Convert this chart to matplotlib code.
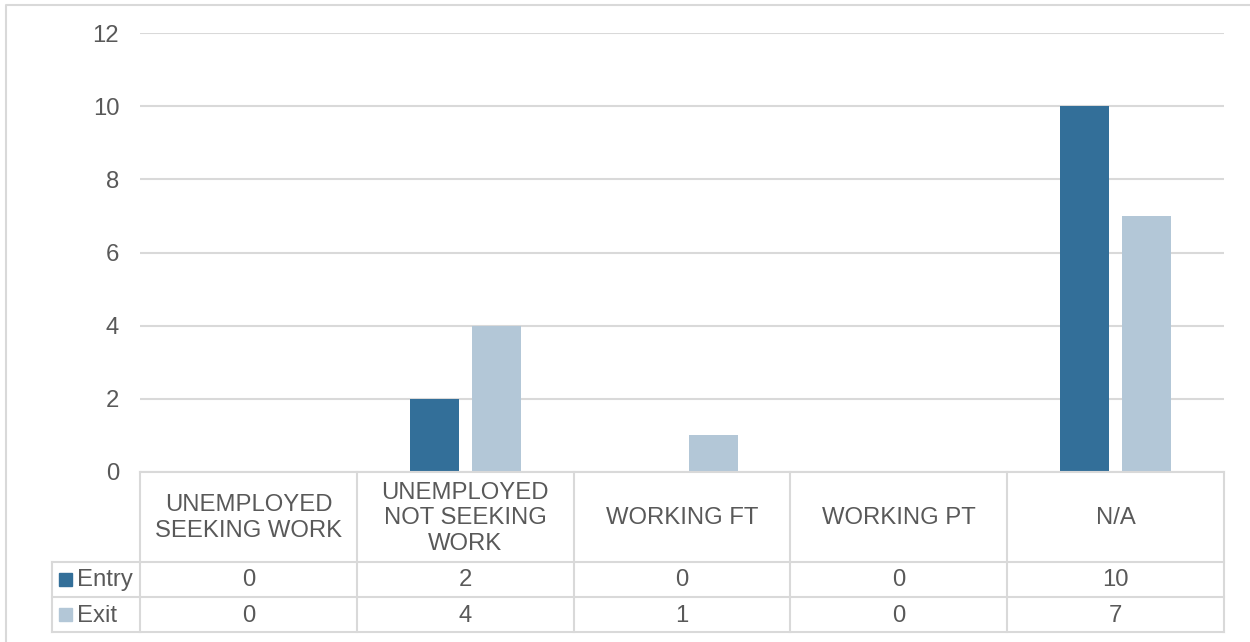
import numpy as np
import matplotlib.pyplot as plt
from matplotlib.patches import Rectangle

plt.rcParams['font.family'] = ['Liberation Sans', 'DejaVu Sans']

# Data
categories = ['UNEMPLOYED\nSEEKING WORK', 'UNEMPLOYED\nNOT SEEKING\nWORK',
              'WORKING FT', 'WORKING PT', 'N/A']
series_names = ['Entry', 'Exit']
entry_values = [0, 2, 0, 0, 10]
exit_values = [0, 4, 1, 0, 7]
y_ticks = [0, 2, 4, 6, 8, 10, 12]

# Colors
entry_color = '#336f99'
exit_color = '#b3c7d7'
text_color = '#595959'
grid_color = '#d9d9d9'

W, H = 1250, 642
fs = 17.2
fig = plt.figure(figsize=(W / 100, H / 100), dpi=100)
fig.patch.set_facecolor('white')


def fx(px):
    return px / W


def fy(py):
    return 1 - py / H


# plot area, in pixels
left, right, top, bottom = 140, 1224, 33, 472
ax = fig.add_axes([fx(left), fy(bottom), fx(right - left), fy(top) - fy(bottom)])

x = np.arange(len(categories))
bar_w = 0.226
offset = 0.143
ax.bar(x - offset, entry_values, bar_w, color=entry_color, zorder=3)
ax.bar(x + offset, exit_values, bar_w, color=exit_color, zorder=3)

ax.set_xlim(-0.5, len(categories) - 0.5)
ax.set_ylim(0, 12)
ax.set_yticks(y_ticks)
ax.set_yticklabels([str(t) for t in y_ticks], fontsize=fs, color=text_color)
ax.tick_params(axis='y', length=0, pad=15)
ax.set_xticks([])
ax.yaxis.grid(True, color=grid_color, linewidth=1.5, zorder=0)
for s in ax.spines.values():
    s.set_visible(False)

# data table below the plot area, drawn in pixel coordinates
tab = fig.add_axes([0, 0, 1, 1], facecolor='none')
tab.set_xlim(0, W)
tab.set_ylim(H, 0)
tab.axis('off')

col_w = (right - left) / len(categories)
col_edges = [left + i * col_w for i in range(len(categories) + 1)]
row_edges = [bottom, 561.5, 597, 632]
legend_left = 52

lw = 1.5
# vertical lines of the category columns
for cx in col_edges:
    tab.plot([cx, cx], [bottom, row_edges[-1]], color=grid_color, lw=lw)
tab.plot([legend_left, legend_left], [row_edges[1], row_edges[-1]], color=grid_color, lw=lw)
for ry in row_edges[1:]:
    tab.plot([legend_left, right], [ry, ry], color=grid_color, lw=lw)
tab.plot([left, right], [bottom, bottom], color=grid_color, lw=lw)

# outer chart border
tab.plot([5.5, 5.5, W], [H, 4.5, 4.5], color=grid_color, lw=1.5)

for i, cat in enumerate(categories):
    cx = (col_edges[i] + col_edges[i + 1]) / 2
    tab.text(cx, (row_edges[0] + row_edges[1]) / 2 + 1.5, cat, ha='center', va='center',
             fontsize=fs, color=text_color, linespacing=1.22)

for r, (name, vals, col) in enumerate(zip(series_names, [entry_values, exit_values],
                                          [entry_color, exit_color])):
    ry = (row_edges[r + 1] + row_edges[r + 2]) / 2
    tab.add_patch(Rectangle((59, ry - 6.5), 13, 13, color=col))
    tab.text(77, ry + 1, name, ha='left', va='center', fontsize=fs, color=text_color)
    for i, v in enumerate(vals):
        cx = (col_edges[i] + col_edges[i + 1]) / 2
        tab.text(cx, ry + 1, str(v), ha='center', va='center', fontsize=fs, color=text_color)

fig.savefig('out.png', dpi=100)
